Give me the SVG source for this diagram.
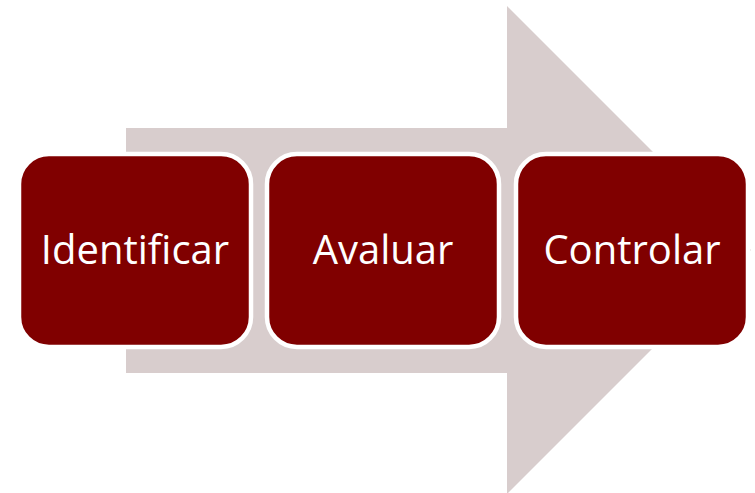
<svg xmlns="http://www.w3.org/2000/svg" width="755" height="493" viewBox="0 0 755 493">
  <style>
    .step rect { fill: #800000; stroke: #ffffff; stroke-width: 4.5; }
    .step text { fill: #ffffff; font-family: "Open Sans", "Noto Sans", "Liberation Sans", sans-serif; font-size: 40px; text-anchor: middle; }
    .flow { fill: #d8cdcd; }
  </style>
  <!-- background process arrow -->
  <g id="flow-arrow">
    <polygon class="flow" points="126,128 507,128 507,6 751,250 507,494 507,373 126,373"/>
  </g>
  <g id="step-identificar" class="step">
    <rect x="19" y="154" width="232" height="193" rx="30" ry="30"/>
    <text x="135" y="264">Identificar</text>
  </g>
  <g id="step-avaluar" class="step">
    <rect x="267" y="154" width="232" height="193" rx="30" ry="30"/>
    <text x="383" y="264">Avaluar</text>
  </g>
  <g id="step-controlar" class="step">
    <rect x="516" y="154" width="232" height="193" rx="30" ry="30"/>
    <text x="632" y="264">Controlar</text>
  </g>
</svg>
